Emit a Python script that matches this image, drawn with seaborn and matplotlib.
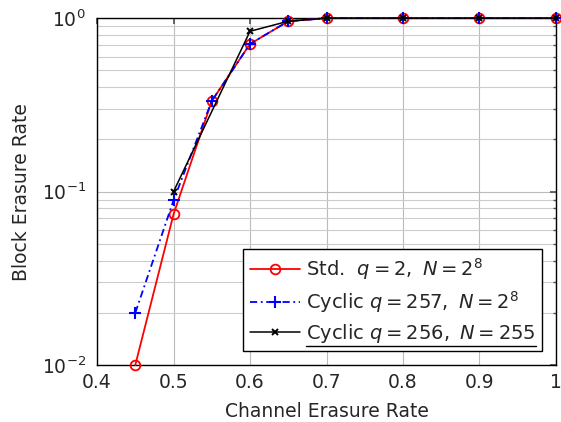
import numpy as np
import pandas as pd
import matplotlib
matplotlib.use("Agg")
import matplotlib.pyplot as plt
import seaborn as sns
from matplotlib.lines import Line2D

sns.set_theme(style="white")
plt.rcParams['font.family'] = ['DejaVu Sans']
plt.rcParams['mathtext.fontset'] = 'dejavusans'

x_std = [0.45, 0.5, 0.55, 0.6, 0.65, 0.7, 0.8, 0.9, 1.0]
y_std = [0.01, 0.074, 0.333, 0.71, 0.96, 1.0, 1.0, 1.0, 1.0]
x_cyc257 = [0.45, 0.5, 0.55, 0.6, 0.65, 0.7, 0.8, 0.9, 1.0]
y_cyc257 = [0.02, 0.089, 0.333, 0.71, 0.96, 1.0, 1.0, 1.0, 1.0]
x_cyc256 = [0.5, 0.6, 0.65, 0.7, 0.8, 0.9, 1.0]
y_cyc256 = [0.1, 0.84, 0.96, 1.0, 1.0, 1.0, 1.0]
labels = [r"Std.  $q=2,\ N=2^8$", r"Cyclic $q=257,\ N=2^8$", r"Cyclic $q=256,\ N=255$"]
xticks = [0.4, 0.5, 0.6, 0.7, 0.8, 0.9, 1.0]
xticklabels = ["0.4", "0.5", "0.6", "0.7", "0.8", "0.9", "1"]

fig = plt.figure(figsize=(5.61, 4.22), dpi=100)
ax = fig.add_axes([0.173, 0.135, 0.818, 0.822])

sns.lineplot(x=x_std, y=y_std, ax=ax, color="red", marker="o", markersize=7,
             markerfacecolor="none", markeredgecolor="red", markeredgewidth=1.3,
             linewidth=1.3, label=labels[0], clip_on=False, zorder=3)
sns.lineplot(x=x_cyc257, y=y_cyc257, ax=ax, color="blue", marker="+", markersize=8,
             markeredgecolor="blue", markeredgewidth=1.5, linewidth=1.3,
             linestyle=(0, (4, 2, 1, 2)), label=labels[1], clip_on=False, zorder=4)
sns.lineplot(x=x_cyc256, y=y_cyc256, ax=ax, color="black", marker="x", markersize=5,
             markeredgecolor="black", markeredgewidth=1.4, linewidth=1.1,
             label=labels[2], clip_on=False, zorder=5)

ax.set_yscale("log")
ax.set_xlim(0.4, 1.0)
ax.set_ylim(0.01, 1.0)
ax.set_xticks(xticks)
ax.set_xticklabels(xticklabels)
ax.set_yticks([0.01, 0.1, 1.0])
ax.set_yticklabels([r"$10^{-2}$", r"$10^{-1}$", r"$10^{0}$"])
ax.grid(True, which="major", color="#bbbbbb", linewidth=0.8)
ax.grid(True, which="minor", axis="y", color="#cccccc", linewidth=0.8)
ax.minorticks_on()
ax.xaxis.set_minor_locator(matplotlib.ticker.NullLocator())
ax.tick_params(axis="both", which="both", direction="in", top=True, right=True,
               labelsize=13.5, color="#555555")
ax.tick_params(which="major", length=4)
ax.tick_params(which="minor", length=2)
ax.tick_params(axis="x", pad=6)
ax.tick_params(axis="y", pad=8)
for s in ax.spines.values():
    s.set_color("black")
    s.set_linewidth(1.0)
ax.set_axisbelow(True)
ax.set_xlabel("Channel Erasure Rate", fontsize=13.5, labelpad=7)
ax.set_ylabel("Block Erasure Rate", fontsize=13.5, labelpad=8)

leg = ax.legend(loc="lower right", fontsize=14, frameon=True, fancybox=False,
                framealpha=1, edgecolor="black", borderaxespad=0.7,
                handlelength=2.6, handletextpad=0.3, labelspacing=0.35,
                borderpad=0.35)
leg.get_frame().set_linewidth(1.0)
fig.canvas.draw()
# underline beneath third legend entry, as in the reference
txt = leg.get_texts()[2]
bb = txt.get_window_extent().transformed(fig.transFigure.inverted())
fig.add_artist(Line2D([bb.x0, bb.x1], [bb.y0 - 0.004, bb.y0 - 0.004],
                      transform=fig.transFigure, color="black", linewidth=1.0))

fig.savefig("out.png", dpi=100)
